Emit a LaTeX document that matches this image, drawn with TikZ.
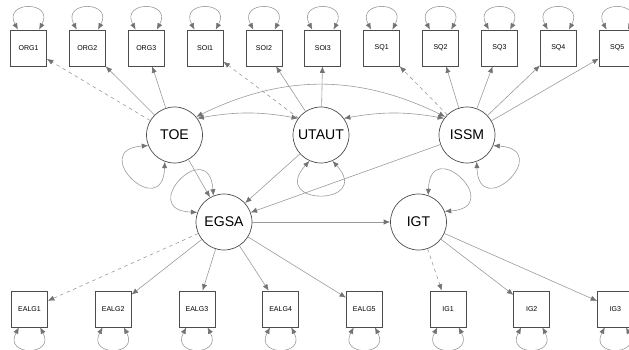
\documentclass[tikz,border=0pt]{standalone}
\usepackage{fontspec}
\setmainfont{Liberation Sans}
\usetikzlibrary{positioning,arrows.meta}
\definecolor{pathgray}{gray}{0.6}
\definecolor{tipgray}{gray}{0.45}
\definecolor{rimgray}{gray}{0.3}
\tikzset{lat/.style={circle, draw=rimgray, line width=0.6pt, minimum size=1.68cm, inner sep=0pt, font=\fontsize{12}{12}\selectfont}}
\tikzset{obs/.style={rectangle, draw=rimgray, line width=0.6pt, minimum size=1.08cm, inner sep=0pt, font=\fontsize{6}{6}\selectfont}}
\tikzset{arr/.style={draw=pathgray, line width=0.5pt, -{Latex[length=5.5pt, width=4.5pt, color=tipgray]}}}
\tikzset{fixd/.style={arr, dashed}}
\tikzset{cov/.style={arr, {Latex[length=5.5pt, width=4.5pt, color=tipgray]}-{Latex[length=5.5pt, width=4.5pt, color=tipgray]}}}
% residual loop on a latent, #2 = direction it points to
\newcommand\latvar[2]{%
  \pgfmathtruncatemacro\va{#2-24}%
  \pgfmathtruncatemacro\vb{#2+24}%
  \pgfmathtruncatemacro\vo{#2-42}%
  \pgfmathtruncatemacro\vi{#2+42}%
  \draw[cov] (#1.\va) to[out=\vo, in=\vi, looseness=6.8] (#1.\vb);}

\begin{document}
\begin{tikzpicture}
  \useasboundingbox (0,0) rectangle (18.87,10.47);
  % latent variables
  \node[lat] (TOE) at (5.235,6.42) {TOE};
  \node[lat] (UTAUT) at (9.63,6.42) {UTAUT};
  \node[lat] (ISSM) at (14.01,6.42) {ISSM};
  \node[lat] (EGSA) at (6.72,3.81) {EGSA};
  \node[lat] (IGT) at (12.555,3.81) {IGT};
  % indicators, top and bottom rows
  \node[obs] (ORG1) at (0.855,9.03) {ORG1};
  \foreach \n [remember=\n as \p (initially ORG1)] in {ORG2,ORG3,SOI1,SOI2,SOI3,SQ1,SQ2,SQ3,SQ4,SQ5}
    \node[obs, right=0.665cm of \p] (\n) {\n};
  \node[obs] (EALG1) at (0.885,1.2) {EALG1};
  \foreach \n [remember=\n as \p (initially EALG1)] in {EALG2,EALG3,EALG4,EALG5,IG1,IG2,IG3}
    \node[obs, right=1.41cm of \p] (\n) {\n};

  % loadings
  \draw[fixd] (TOE) -- (ORG1);
  \foreach \n in {ORG2,ORG3} \draw[arr] (TOE) -- (\n);
  \draw[fixd] (UTAUT) -- (SOI1);
  \foreach \n in {SOI2,SOI3} \draw[arr] (UTAUT) -- (\n);
  \draw[fixd] (ISSM) -- (SQ1);
  \foreach \n in {SQ2,SQ3,SQ4,SQ5} \draw[arr] (ISSM) -- (\n);
  \draw[fixd] (EGSA) -- (EALG1);
  \foreach \n in {EALG2,EALG3,EALG4,EALG5} \draw[arr] (EGSA) -- (\n);
  \draw[fixd] (IGT) -- (IG1);
  \foreach \n in {IG2,IG3} \draw[arr] (IGT) -- (\n);

  % structural paths
  \foreach \n in {TOE,UTAUT,ISSM} \draw[arr] (\n) -- (EGSA);
  \draw[arr] (EGSA) -- (IGT);

  % covariances
  \draw[cov] (TOE.36) to[bend left=10] (UTAUT.144);
  \draw[cov] (UTAUT.36) to[bend left=10] (ISSM.144);
  \draw[cov] (TOE.40) to[bend left=26] (ISSM.140);

  % residual variances
  \foreach \n in {ORG1,ORG2,ORG3,SOI1,SOI2,SOI3,SQ1,SQ2,SQ3,SQ4,SQ5}
    \draw[cov] (\n.120) to[out=118, in=62, looseness=4] (\n.60);
  \foreach \n in {EALG1,EALG2,EALG3,EALG4,EALG5,IG1,IG2,IG3}
    \draw[cov] (\n.240) to[out=242, in=298, looseness=4] (\n.300);
  \latvar{TOE}{226}
  \latvar{UTAUT}{270}
  \latvar{ISSM}{314}
  \latvar{EGSA}{136}
  \latvar{IGT}{46}
\end{tikzpicture}
\end{document}
